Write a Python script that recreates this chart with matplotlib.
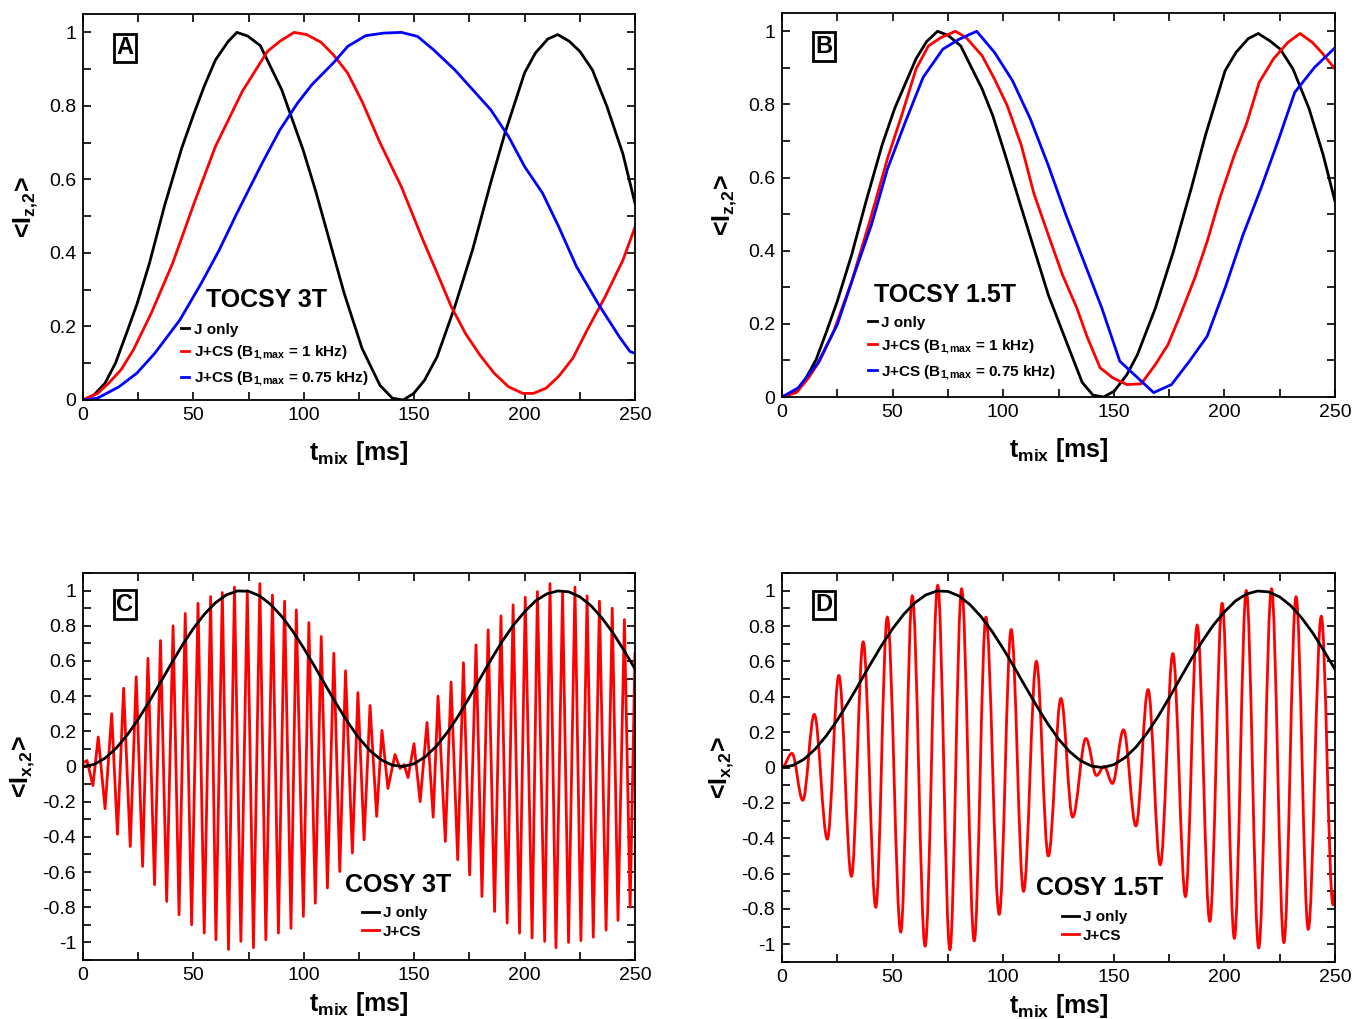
import matplotlib
matplotlib.use("Agg")
import matplotlib.pyplot as plt
from matplotlib.ticker import MultipleLocator, FuncFormatter
from matplotlib.path import Path
from matplotlib.patches import PathPatch

plt.rcParams["font.family"] = ["Liberation Sans", "DejaVu Sans"]
plt.rcParams["mathtext.fontset"] = "custom"
plt.rcParams["mathtext.rm"] = "Liberation Sans"
plt.rcParams["mathtext.it"] = "Liberation Sans:italic"
plt.rcParams["mathtext.bf"] = "Liberation Sans:bold"

# ---- TOCSY 3T (panel A) ----
a_j_t = [0, 5.0, 9.9, 14.7, 19.6, 24.4, 30, 37, 44.7, 50.3, 55, 60.0, 65.7, 69.7, 74.6, 80.3,
         90.0, 99.7, 105.3, 111.8, 118.3, 126.4, 134.5, 140.1, 145, 149.8, 154.7, 160.4,
         168.4, 176.5, 184.6, 191.1, 200, 204.9, 210.5, 215, 220.2, 225.1, 230.7, 237.2,
         244.5, 250]
a_j_y = [0, 0.014, 0.045, 0.10, 0.18, 0.26, 0.37, 0.53, 0.685, 0.78, 0.855, 0.925, 0.975, 1.0,
         0.99, 0.964, 0.844, 0.68, 0.57, 0.43, 0.29, 0.14, 0.04, 0.005, 0, 0.018, 0.054,
         0.118, 0.254, 0.41, 0.59, 0.726, 0.89, 0.944, 0.982, 0.994, 0.976, 0.948, 0.898,
         0.80, 0.67, 0.535]
a_cs1_t = [0, 6.6, 11.5, 17.2, 22.8, 30.9, 40.6, 50.3, 60.0, 72.2, 83.5, 89.2, 95.6, 101.3,
           107.8, 113.4, 119.9, 126.4, 134.5, 144.2, 153.9, 160.4, 166.8, 173.3, 179.8,
           186.2, 192.7, 199.2, 204, 209.7, 215.4, 221.8, 228.3, 236.4, 244.5, 250]
a_cs1_y = [0, 0.018, 0.045, 0.082, 0.136, 0.236, 0.372, 0.535, 0.69, 0.84, 0.948, 0.976, 1.0,
           0.994, 0.973, 0.939, 0.889, 0.812, 0.70, 0.58, 0.436, 0.345, 0.254, 0.18, 0.122,
           0.073, 0.036, 0.018, 0.018, 0.032, 0.064, 0.113, 0.19, 0.28, 0.38, 0.47]
a_cs075_t = [0, 6.6, 16.3, 24.4, 32.5, 43.9, 53.6, 61.7, 69.7, 81.1, 89.2, 97.2, 103.7, 113.4,
             119.9, 128, 136.1, 144.2, 151.5, 158.7, 168.4, 176.5, 184.6, 192.7, 200, 208.1,
             215.4, 223.5, 233.2, 242.9, 247.7, 250]
a_cs075_y = [0, 0.005, 0.036, 0.073, 0.127, 0.218, 0.318, 0.408, 0.508, 0.644, 0.735, 0.808,
             0.858, 0.917, 0.962, 0.991, 0.998, 1.0, 0.989, 0.953, 0.898, 0.844, 0.79, 0.717,
             0.635, 0.563, 0.472, 0.363, 0.263, 0.172, 0.132, 0.127]

# ---- TOCSY 1.5T (panel B) ----
b_j_t = [0, 6.5, 10.5, 15.4, 20.2, 25.0, 31.5, 38, 45.3, 51, 60.6, 65.4, 70.3, 75.1, 80.8,
         90.5, 95.3, 101, 107.4, 113.9, 120.4, 128.5, 135.7, 140.6, 145.4, 150.2, 155.9,
         160.7, 168.8, 176.9, 185, 191.4, 200.3, 205.2, 210.8, 215.3, 220.5, 225.3, 231,
         238.3, 244.7, 250]
b_j_y = [0, 0.016, 0.048, 0.102, 0.18, 0.262, 0.389, 0.535, 0.69, 0.79, 0.925, 0.972, 1.0,
         0.989, 0.96, 0.842, 0.769, 0.66, 0.533, 0.406, 0.279, 0.152, 0.04, 0.005, 0,
         0.016, 0.061, 0.116, 0.243, 0.397, 0.57, 0.715, 0.892, 0.942, 0.98, 0.994, 0.974,
         0.951, 0.897, 0.788, 0.661, 0.535]
b_cs1_t = [0, 6.5, 12.1, 17, 23.4, 31.5, 39.6, 47.7, 54.1, 60.6, 66.2, 71.9, 78.4, 83.2,
           90.5, 96.1, 101.8, 108.2, 113.9, 120.4, 126.8, 133.3, 138.1, 143.8, 149.4, 155.9,
           162.4, 168.8, 174.5, 180.1, 186.6, 192.2, 197.9, 204.4, 210, 215.7, 222.1, 228.6,
           234.2, 239.9, 244.7, 250]
b_cs1_y = [0, 0.012, 0.053, 0.098, 0.18, 0.316, 0.479, 0.652, 0.77, 0.897, 0.96, 0.983, 1.0,
           0.983, 0.933, 0.869, 0.797, 0.688, 0.556, 0.443, 0.334, 0.243, 0.162, 0.08, 0.053,
           0.034, 0.036, 0.089, 0.143, 0.225, 0.325, 0.425, 0.543, 0.66, 0.747, 0.86, 0.924,
           0.969, 0.994, 0.969, 0.937, 0.897]
b_cs075_t = [0, 7.3, 16.2, 25, 33.1, 40.4, 47.7, 55.7, 63.8, 72.7, 80, 88, 96.1, 104.2, 112.3,
             120.4, 128.4, 136.5, 144.6, 152.7, 160.7, 168, 176.1, 184.2, 192.2, 200.3, 208.4,
             216.5, 224.6, 231.8, 240.7, 250]
b_cs075_y = [0, 0.025, 0.093, 0.198, 0.343, 0.47, 0.624, 0.751, 0.874, 0.951, 0.978, 1.0,
             0.942, 0.865, 0.76, 0.633, 0.497, 0.37, 0.243, 0.098, 0.053, 0.012, 0.034, 0.098,
             0.166, 0.298, 0.443, 0.57, 0.706, 0.833, 0.901, 0.955]

# ---- COSY, J only (same curve in panels C and D) ----
cosy_j_t = list(range(0, 255, 5))
cosy_j_y = [0.0, 0.012, 0.047, 0.104, 0.179, 0.268, 0.369, 0.476, 0.585, 0.690, 0.785, 0.866,
            0.931, 0.976, 0.998, 0.996, 0.970, 0.921, 0.853, 0.769, 0.672, 0.567, 0.458,
            0.351, 0.250, 0.161, 0.090, 0.038, 0.008, 0.000, 0.016, 0.055, 0.115, 0.194,
            0.288, 0.393, 0.503, 0.612, 0.714, 0.805, 0.880, 0.942, 0.981, 0.998, 0.993,
            0.965, 0.915, 0.845, 0.760, 0.660, 0.555]

# ---- COSY 3T, J+CS (panel C), turning points ----
c_cs_t = [0.0, 1.8, 4.5, 6.9, 10.0, 13.0, 15.6, 18.4, 21.4, 24.1, 27.0, 29.4, 32.4, 35.1,
          37.9, 40.8, 43.5, 46.3, 49.2, 52.1, 54.9, 57.8, 60.2, 63.1, 65.9, 68.6, 71.5, 74.4,
          77.2, 80.1, 82.8, 85.8, 88.5, 91.3, 94.2, 96.6, 99.8, 102.3, 105.2, 107.9, 110.7,
          113.6, 116.3, 118.9, 122.0, 124.5, 127.3, 130.0, 133.0, 135.4, 138.1, 141.3, 143.6,
          145.4, 147.2, 149.9, 152.7, 155.8, 158.6, 160.8, 164.1, 166.7, 169.7, 172.3, 175.1,
          178.0, 180.7, 183.5, 186.4, 189.3, 192.1, 194.8, 197.7, 200.3, 203.4, 205.8, 209.1,
          211.5, 214.2, 217.2, 219.9, 222.8, 225.5, 228.3, 231.1, 233.9, 236.9, 239.7, 242.3,
          245.2, 247.8, 250.0]
c_cs_y = [0.02, 0.034, -0.108, 0.168, -0.24, 0.30, -0.385, 0.445, -0.455, 0.51, -0.568, 0.615,
          -0.672, 0.716, -0.767, 0.80, -0.843, 0.87, -0.90, 0.928, -0.947, 0.966, -0.985,
          0.989, -1.04, 1.02, -0.994, 1.0, -1.03, 1.04, -0.985, 0.975, -0.947, 0.94, -0.92,
          0.89, -0.852, 0.818, -0.777, 0.739, -0.691, 0.644, -0.597, 0.544, -0.492, 0.42,
          -0.417, 0.347, -0.284, 0.205, -0.125, 0.068, -0.011, 0.011, -0.063, 0.13, -0.20,
          0.25, -0.288, 0.40, -0.426, 0.48, -0.53, 0.59, -0.616, 0.691, -0.739, 0.777, -0.824,
          0.856, -0.89, 0.919, -0.947, 0.962, -0.975, 0.994, -0.994, 1.04, -1.03, 0.985, -1.0,
          1.02, -0.99, 0.97, -0.97, 0.94, -0.93, 0.90, -0.875, 0.835, -0.80, 0.64]

# ---- COSY 1.5T, J+CS (panel D), turning points ----
d_cs_t = [0.0, 4.5, 9.4, 14.6, 20.5, 25.7, 31.4, 36.7, 42.4, 47.6, 53.7, 58.9, 64.7, 70.4,
          75.9, 81.2, 86.9, 92.2, 98.2, 103.6, 109.2, 115.0, 120.4, 126.1, 131.4, 137.4,
          142.2, 145.6, 149.4, 154.4, 160.0, 165.5, 171.0, 176.7, 182.4, 187.7, 193.4, 199.0,
          204.5, 209.9, 215.5, 221.3, 226.9, 232.4, 237.9, 243.8, 249.1, 250.0]
d_cs_y = [0.0, 0.08, -0.185, 0.30, -0.405, 0.52, -0.615, 0.71, -0.79, 0.85, -0.93, 0.97,
          -1.01, 1.03, -1.03, 1.01, -0.98, 0.85, -0.83, 0.78, -0.70, 0.60, -0.50, 0.39, -0.28,
          0.164, -0.045, 0.006, -0.09, 0.213, -0.33, 0.44, -0.55, 0.644, -0.73, 0.805, -0.87,
          0.928, -0.966, 1.0, -1.02, 1.01, -0.99, 0.965, -0.915, 0.855, -0.775, -0.70]

XLABEL = r"$\mathbf{t_{mix}}$ [ms]"
LINE_W = 2.0


def fmt_tick(v, pos):
    v = round(v, 6)
    if v == 0:
        return "0"
    return f"{v:g}"


def smooth_path(ts, ys, k=0.36):
    # curve through the turning points with flat tangents at each of them
    verts = [(ts[0], ys[0])]
    codes = [Path.MOVETO]
    for i in range(len(ts) - 1):
        d = ts[i + 1] - ts[i]
        verts += [(ts[i] + k * d, ys[i]), (ts[i + 1] - k * d, ys[i + 1]), (ts[i + 1], ys[i + 1])]
        codes += [Path.CURVE4] * 3
    return Path(verts, codes)


def style_axes(ax, ymin, ymax, ymajor, xpad):
    ax.set_xlim(0, 250)
    ax.set_ylim(ymin, ymax)
    ax.xaxis.set_major_locator(MultipleLocator(50))
    ax.xaxis.set_minor_locator(MultipleLocator(25))
    ax.yaxis.set_major_locator(MultipleLocator(ymajor))
    ax.yaxis.set_minor_locator(MultipleLocator(0.1))
    ax.xaxis.set_major_formatter(FuncFormatter(fmt_tick))
    ax.yaxis.set_major_formatter(FuncFormatter(fmt_tick))
    ax.tick_params(which="both", direction="in", top=True, right=True,
                   length=6, width=1.2, labelsize=14, pad=5)
    for s in ax.spines.values():
        s.set_linewidth(1.3)
    ax.set_xlabel(XLABEL, fontsize=18, fontweight="bold", labelpad=xpad)


def panel_letter(ax, letter, x, y):
    ax.text(x, y, letter, transform=ax.transAxes, fontsize=17, fontweight="bold",
            ha="center", va="center",
            bbox=dict(boxstyle="square,pad=0.12", fc="white", ec="black", lw=2))


def add_legend(ax, handles, labels, title, title_xy, anchor, hlen, spacing):
    ax.text(title_xy[0], title_xy[1], title, transform=ax.transAxes, fontsize=18,
            fontweight="bold", ha="center", va="center")
    ax.legend(handles, labels, loc="lower left", bbox_to_anchor=anchor,
              frameon=False, borderaxespad=0, borderpad=0,
              handlelength=hlen, handletextpad=0.3, labelspacing=spacing,
              prop={"weight": "bold", "size": 11})


fig = plt.figure(figsize=(13.57, 10.19), dpi=100)
ax_a = fig.add_axes([83 / 1357, 1 - 400 / 1019, 552 / 1357, 386 / 1019])
ax_b = fig.add_axes([782 / 1357, 1 - 397 / 1019, 553 / 1357, 384 / 1019])
ax_c = fig.add_axes([83 / 1357, 1 - 960 / 1019, 552 / 1357, 387 / 1019])
ax_d = fig.add_axes([782 / 1357, 1 - 962 / 1019, 553 / 1357, 389 / 1019])

cs1_label = r"J+CS (B$_{\mathbf{1,\!max}}$ = 1 kHz)"
cs075_label = r"J+CS (B$_{\mathbf{1,\!max}}$ = 0.75 kHz)"

# TOCSY panels
for ax, jt, jy, t1, y1, t2, y2, title, title_xy, anchor, letter in [
    (ax_a, a_j_t, a_j_y, a_cs1_t, a_cs1_y, a_cs075_t, a_cs075_y,
     "TOCSY 3T", (0.333, 0.259), (0.177, 0.03), "A"),
    (ax_b, b_j_t, b_j_y, b_cs1_t, b_cs1_y, b_cs075_t, b_cs075_y,
     "TOCSY 1.5T", (0.295, 0.266), (0.156, 0.04), "B"),
]:
    ax.plot(jt, jy, color="black", lw=LINE_W, label="J only")
    ax.plot(t1, y1, color="red", lw=LINE_W, label=cs1_label)
    ax.plot(t2, y2, color="blue", lw=LINE_W, label=cs075_label)
    style_axes(ax, 0, 1.05, 0.2, 11)
    ax.set_ylabel(r"<I$_{\mathbf{z,\!2}}$>", fontsize=18, fontweight="bold", labelpad=6)
    h, l = ax.get_legend_handles_labels()
    add_legend(ax, h, l, title, title_xy, anchor, 0.55, 0.5)
    panel_letter(ax, letter, 0.076, 0.912)

# COSY 3T: sampled curve, straight segments
ax_c.plot(c_cs_t, c_cs_y, color="red", lw=LINE_W, label="J+CS", zorder=2)
# COSY 1.5T: smooth oscillation through its turning points
ax_d.add_patch(PathPatch(smooth_path(d_cs_t, d_cs_y), fill=False, edgecolor="red",
                         lw=LINE_W, zorder=2))
ax_d.plot([], [], color="red", lw=LINE_W, label="J+CS")

for ax, title, title_xy, anchor, letter in [
    (ax_c, "COSY 3T", (0.571, 0.194), (0.505, 0.055), "C"),
    (ax_d, "COSY 1.5T", (0.575, 0.19), (0.506, 0.05), "D"),
]:
    ax.plot(cosy_j_t, cosy_j_y, color="black", lw=LINE_W, label="J only", zorder=3)
    style_axes(ax, -1.1, 1.1, 0.2, 4)
    ax.set_ylabel(r"<I$_{\mathbf{x,\!2}}$>", fontsize=18, fontweight="bold", labelpad=4)
    h, l = ax.get_legend_handles_labels()
    add_legend(ax, h[::-1], l[::-1], title, title_xy, anchor, 1.1, 0.3)
    panel_letter(ax, letter, 0.076, 0.918)

fig.savefig("out.png", dpi=100)
